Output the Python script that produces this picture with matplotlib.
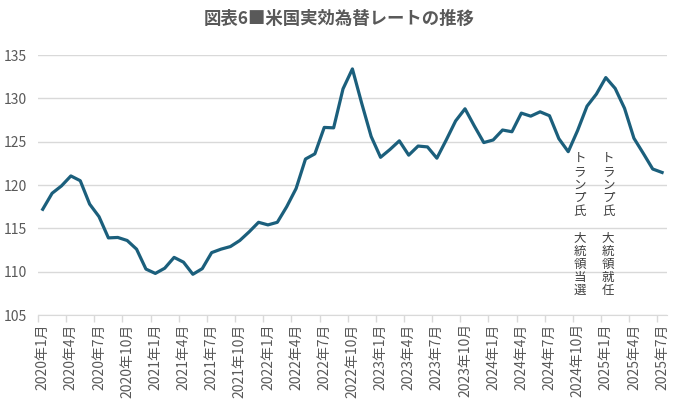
import matplotlib
matplotlib.use('Agg')
import matplotlib.pyplot as plt
from matplotlib.ticker import FixedLocator

plt.rcParams['font.family'] = ['Noto Sans CJK JP', 'DejaVu Sans']

# monthly values, 2020年1月 .. 2025年7月
values = [117.2, 119.05, 119.9, 121.05, 120.5, 117.8, 116.35, 113.9, 113.95, 113.6,
          112.6, 110.3, 109.8, 110.4, 111.65, 111.1, 109.7, 110.35, 112.2, 112.6,
          112.9, 113.6, 114.6, 115.7, 115.4, 115.7, 117.5, 119.6, 123.0, 123.6,
          126.65, 126.6, 131.1, 133.4, 129.4, 125.6, 123.2, 124.1, 125.1, 123.45,
          124.5, 124.4, 123.1, 125.2, 127.4, 128.8, 126.8, 124.9, 125.2, 126.35,
          126.15, 128.3, 127.95, 128.45, 128.0, 125.35, 123.85, 126.3, 129.1, 130.5,
          132.4, 131.15, 128.85, 125.4, 123.65, 121.85, 121.45]
months = []
for y in range(2020, 2026):
    for m in range(1, 13):
        months.append(f'{y}年{m}月')
months = months[:len(values)]

yticks = [105, 110, 115, 120, 125, 130, 135]
notes = [('トランプ氏', '大統領当選'), ('トランプ氏', '大統領就任')]
note_idx = [57, 60]

line_col = '#1b5f7c'
grid_col = '#d9d9d9'
txt_col = '#595959'

fig = plt.figure(figsize=(6.79, 3.99), dpi=100)
ax = fig.add_axes([0.056, 0.2105, 0.926, 0.6515])

x = list(range(len(values)))
ax.plot(x, values, color=line_col, lw=2.3, solid_joinstyle='round')

ax.set_ylim(105, 135)
ax.set_xlim(-0.5, len(values) - 0.5)
ax.set_yticks(yticks)
ax.set_yticklabels([str(v) for v in yticks], color=txt_col, fontsize=10)
ax.grid(axis='y', color=grid_col, lw=1)
ax.set_axisbelow(True)

lab_pos = x[::3]
ax.set_xticks(lab_pos)
ax.set_xticklabels([months[i] for i in lab_pos], rotation=90, color=txt_col, fontsize=10)
ax.xaxis.set_minor_locator(FixedLocator([i - 0.5 for i in range(0, len(values) + 1, 3)]))
ax.tick_params(axis='x', which='major', length=0, pad=6)
ax.tick_params(axis='x', which='minor', length=5, color=grid_col, width=1)
ax.tick_params(axis='y', length=0, pad=8)

for s in ['top', 'right', 'left']:
    ax.spines[s].set_visible(False)
ax.spines['bottom'].set_color(grid_col)

for i, (a, b) in zip(note_idx, notes):
    vert = '\n'.join(list(a) + [' '] + list(b))
    ax.text(i + 0.25, 123.8, vert, ha='center', va='top', fontsize=9,
            color='#404040', linespacing=1.02)

fig.suptitle('図表6■米国実効為替レートの推移', x=0.5, y=0.975, fontsize=12.5,
             fontweight='bold', color=txt_col)

fig.savefig('out.png', dpi=100)
